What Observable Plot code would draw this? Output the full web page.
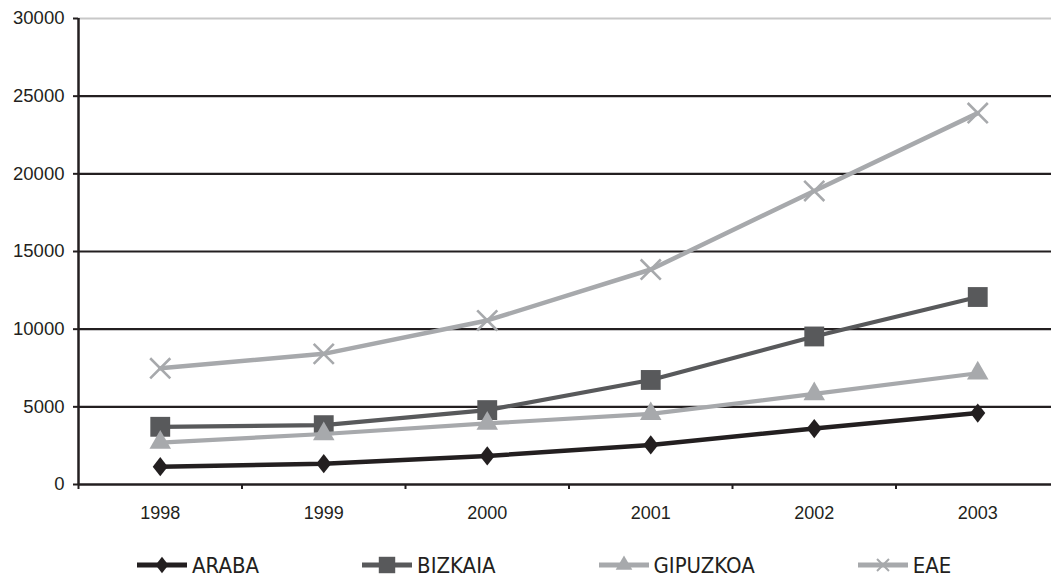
<!DOCTYPE html>
<html>
<head>
<meta charset="utf-8">
<script src="https://cdn.jsdelivr.net/npm/d3@7"></script>
<script src="https://cdn.jsdelivr.net/npm/@observablehq/plot@0.6"></script>
<style>
  html, body { margin: 0; padding: 0; background: #fff; }
  #chart svg { display: block; }
  #legend { display: flex; align-items: center; height: 24px; margin-top: 23px; padding-left: 137px; gap: 103px;
            font-family: "Liberation Sans Narrow", "DejaVu Sans Condensed", sans-serif; font-size: 22px; color: #231f20; }
  .item { display: flex; align-items: center; gap: 5px; white-space: nowrap; }
  .item svg { display: block; }
</style>
</head>
<body>
<div id="chart"></div>
<div id="legend"></div>
<script>
const years = [1998, 1999, 2000, 2001, 2002, 2003];
const araba = [1150, 1340, 1840, 2550, 3600, 4600];
const bizkaia = [3715, 3820, 4790, 6730, 9530, 12070];
const gipuzkoa = [2700, 3250, 3930, 4550, 5830, 7160];
const eae = [7480, 8410, 10560, 13840, 18900, 23910];
const seriesNames = ["ARABA", "BIZKAIA", "GIPUZKOA", "EAE"];
const yTicks = [0, 5000, 10000, 15000, 20000, 25000, 30000];

// wider diamond shape (width/height ratio 0.78)
const wideDiamond = {
  draw(context, size) {
    const h = Math.sqrt(size / 1.56), w = h * 0.78;
    context.moveTo(0, -h); context.lineTo(w, 0); context.lineTo(0, h); context.lineTo(-w, 0); context.closePath();
  }
};

const seriesValues = [araba, bizkaia, gipuzkoa, eae];
const style = {
  ARABA:    {color: "#231f20", symbol: wideDiamond,      r: 6.8, width: 4.5, legendSize: 105, kind: "fill"},
  BIZKAIA:  {color: "#58595b", symbol: d3.symbolSquare,   r: 11.2, width: 4.2, legendSize: 270, kind: "fill"},
  GIPUZKOA: {color: "#a7a9ac", symbol: d3.symbolTriangle, r: 8, width: 4.2, legendSize: 120, kind: "fill"},
  EAE:      {color: "#a7a9ac", symbol: d3.symbolTimes,    r: 9.2, width: 4.5, legendSize: 95, kind: "stroke"}
};

const rows = seriesNames.flatMap((s, i) => years.map((y, j) => ({series: s, year: y, value: seriesValues[i][j]})));
const boundaries = d3.range(years.length + 1).map(i => years[0] - 0.5 + i);

const marks = [
  Plot.ruleY(yTicks.filter(d => d > 0 && d < 30000), {stroke: "#231f20", strokeWidth: 2.2}),
  Plot.ruleY([30000], {stroke: "#c8c8c8", strokeWidth: 2.2}),
  Plot.axisY({ticks: yTicks, tickSize: 5, tickPadding: 9, tickFormat: d => String(d), fontSize: 18.5, stroke: "#231f20", strokeWidth: 2, color: "#231f20", label: null}),
  Plot.axisX({ticks: boundaries, tickSize: 5, tickFormat: () => "", stroke: "#231f20", strokeWidth: 2, label: null}),
  Plot.axisX({ticks: years, tickSize: 0, tickPadding: 22, tickFormat: d => String(d), fontSize: 18, color: "#231f20", label: null}),
  Plot.ruleY([0], {stroke: "#231f20", strokeWidth: 2.5}),
  Plot.ruleX([boundaries[0]], {y1: 0, y2: 30000, stroke: "#231f20", strokeWidth: 2.5})
];
for (const s of seriesNames) {
  const data = rows.filter(d => d.series === s);
  const st = style[s];
  marks.push(Plot.line(data, {x: "year", y: "value", stroke: st.color, strokeWidth: st.width}));
  if (st.kind === "stroke") {
    marks.push(Plot.dot(data, {x: "year", y: "value", symbol: st.symbol, r: st.r, fill: "none", stroke: st.color, strokeWidth: 2.6}));
  } else {
    marks.push(Plot.dot(data, {x: "year", y: "value", symbol: st.symbol, r: st.r, fill: st.color, stroke: "none"}));
  }
}

const chart = Plot.plot({
  width: 1051,
  height: 530,
  marginLeft: 78,
  marginRight: 0,
  marginTop: 18,
  marginBottom: 46,
  style: {fontFamily: "'Liberation Sans', Arial, sans-serif", background: "#fff", color: "#231f20"},
  x: {type: "linear", domain: [boundaries[0], boundaries[boundaries.length - 1]], range: [78, 1059], label: null},
  y: {domain: [0, 30000], label: null},
  marks
});
document.getElementById("chart").appendChild(chart);

const legend = d3.select("#legend");
for (const s of seriesNames) {
  const st = style[s];
  const item = legend.append("div").attr("class", "item");
  const svg = item.append("svg").attr("width", 50).attr("height", 24);
  svg.append("line").attr("x1", 0).attr("x2", 50).attr("y1", 12).attr("y2", 12)
    .attr("stroke", st.color).attr("stroke-width", 5);
  const p = svg.append("path").attr("transform", "translate(25,12)")
    .attr("d", d3.symbol(st.symbol, st.legendSize)());
  if (st.kind === "stroke") p.attr("fill", "none").attr("stroke", st.color).attr("stroke-width", 2);
  else p.attr("fill", st.color);
  item.append("span").text(s);
}
</script>
</body>
</html>
